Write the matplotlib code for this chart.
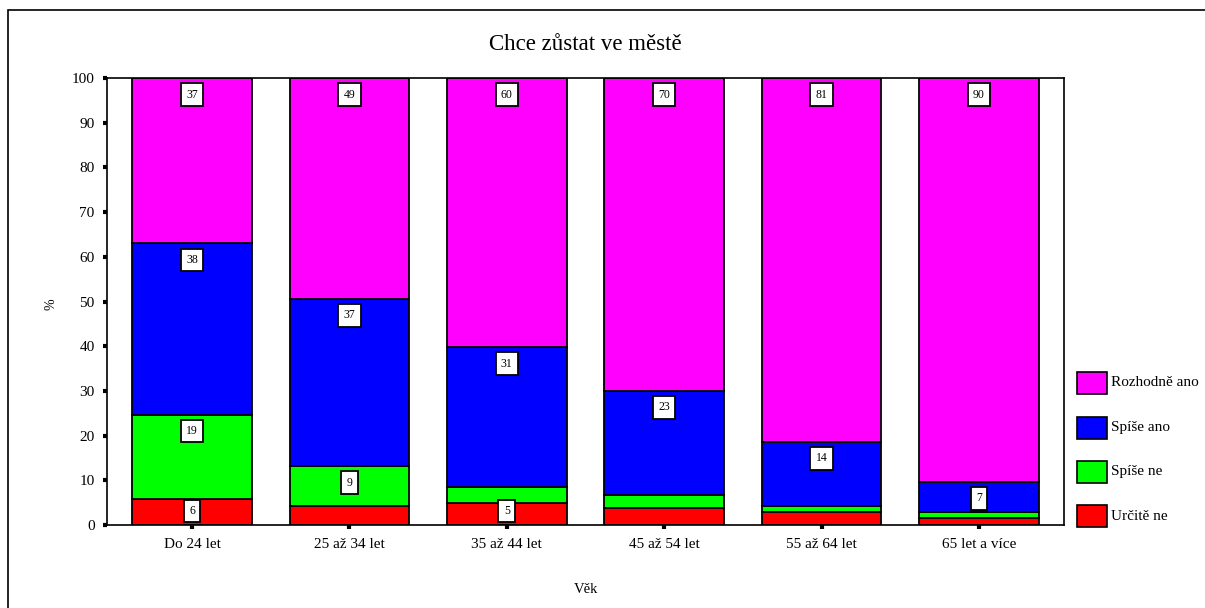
import numpy as np
import matplotlib.pyplot as plt
from matplotlib.patches import Rectangle

# age groups on the x axis
groups = ['Do 24 let', '25 až 34 let', '35 až 44 let',
          '45 až 54 let', '55 až 64 let', '65 let a více']

# answer shares in %, stacked bottom to top
urcite_ne = [5.9, 4.2, 5.0, 3.7, 2.9, 1.5]
spise_ne = [18.8, 9.0, 3.5, 3.1, 1.3, 1.4]
spise_ano = [38.3, 37.4, 31.3, 23.2, 14.4, 6.8]
rozhodne_ano = [37.0, 49.4, 60.2, 70.0, 81.4, 90.3]

series_names = ['Určitě ne', 'Spíše ne', 'Spíše ano', 'Rozhodně ano']
series_vals = [urcite_ne, spise_ne, spise_ano, rozhodne_ano]
colors = ['#ff0000', '#00ff00', '#0000ff', '#ff00ff']

plt.rcParams['font.family'] = ['Liberation Serif', 'DejaVu Serif']

fig = plt.figure(figsize=(12.05, 6.08), dpi=100)
ax = fig.add_axes([0.0888, 0.1365, 0.7942, 0.7352])

x = np.arange(len(groups))
bottom = np.zeros(len(groups))
for name, vals, col in zip(series_names, series_vals, colors):
    vals = np.array(vals)
    ax.bar(x, vals, bottom=bottom, width=0.76, color=col,
           edgecolor='black', linewidth=1.3, label=name)
    # value boxes, only for segments big enough
    for xi, b, v in zip(x, bottom, vals):
        if round(v) >= 5:
            top = b + v
            ypos = max(top - 3.7, b + 3.1)
            ax.text(xi, ypos, str(int(round(v))), ha='center', va='center',
                    fontsize=8.5,
                    bbox=dict(boxstyle='square,pad=0.45', fc='white',
                              ec='black', lw=1.3))
    bottom = bottom + vals

ax.set_xlim(-0.54, len(groups) - 0.46)
ax.set_ylim(0, 100)
ax.set_yticks(np.arange(0, 101, 10))
ax.set_xticks(x)
ax.set_xticklabels(groups, fontsize=11)
ax.tick_params(axis='y', labelsize=11, length=3, width=3, direction='out',
               pad=6)
ax.tick_params(axis='x', length=3, width=3, direction='out', pad=6)
for sp in ax.spines.values():
    sp.set_linewidth(1.2)

fig.text(0.486, 0.927, 'Chce zůstat ve městě', ha='center', va='center',
         fontsize=16.5)
fig.text(0.486, 0.03, 'Věk', ha='center', va='center', fontsize=10.5)
fig.text(0.042, 0.5, '%', ha='center', va='center', fontsize=10,
         rotation=90)

# legend drawn by hand, top entry first
W, H = 1205.0, 608.0
ys = [516, 472, 428, 383]
for name, col, yc in zip(series_names, colors, ys):
    fig.patches.append(Rectangle((1077 / W, 1 - (yc + 11) / H), 30 / W,
                                 22 / H, transform=fig.transFigure,
                                 fc=col, ec='black', lw=1.2))
    fig.text(1111 / W, 1 - yc / H, name, ha='left', va='center',
             fontsize=11)

# outer frame, only left and top edges show
fig.patches.append(Rectangle((8 / W, -0.01), 1.0, 1 - 10 / H + 0.01,
                             transform=fig.transFigure, fill=False,
                             ec='black', lw=1.2))

fig.savefig('out.png', dpi=100)
